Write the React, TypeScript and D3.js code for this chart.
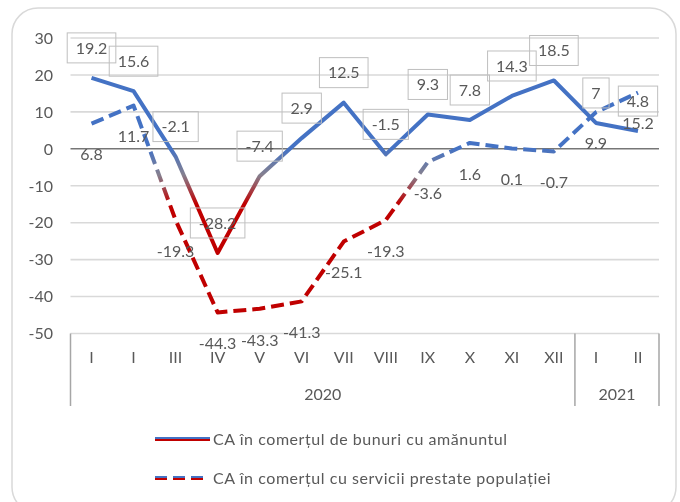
import React from "react";
import * as d3 from "d3";

const months = ["I", "I", "III", "IV", "V", "VI", "VII", "VIII", "IX", "X", "XI", "XII", "I", "II"];
const yearLabels = ["2020", "2021"];
const yearSpans = [12, 2];
const goods = [19.2, 15.6, -2.1, -28.2, -7.4, 2.9, 12.5, -1.5, 9.3, 7.8, 14.3, 18.5, 7, 4.8];
const services = [6.8, 11.7, -19.3, -44.3, -43.3, -41.3, -25.1, -19.3, -3.6, 1.6, 0.1, -0.7, 9.9, 15.2];
const yTicks = [30, 20, 10, 0, -10, -20, -30, -40, -50];
const seriesNames = [
  "CA în comerțul de bunuri cu amănuntul",
  "CA în comerțul cu servicii prestate populației",
];

const W = 680;
const H = 502;
const FONT = "Lato, 'Open Sans', sans-serif";
const TEXT = "#595959";
const BLUE = "#4472C4";
const RED = "#C00000";
const GRAY = "#85808F";

let ctx: CanvasRenderingContext2D | null = null;
function measure(t: string, size: number) {
  if (!ctx) ctx = document.createElement("canvas").getContext("2d");
  if (!ctx) return t.length * size * 0.55;
  ctx.font = `${size}px Lato`;
  return ctx.measureText(t).width;
}

export default function App() {
  const left = 70.5;
  const right = 659;
  const top = 38;
  const bottom = 333.5;
  const x = d3.scaleBand<number>().domain(months.map((_, i) => i)).range([left, right]);
  const bw = x.bandwidth();
  const cx = (i: number) => (x(i) as number) + bw / 2;
  const y = d3.scaleLinear().domain([-50, 30]).range([bottom, top]);

  const line = d3
    .line<number>()
    .x((_, i) => cx(i))
    .y((d) => y(d));

  const fs = 16;
  let acc = 0;
  const yearPos = yearSpans.map((s) => {
    const a = acc;
    acc += s;
    return [a, acc];
  });

  return (
    <div style={{ position: "fixed", left: 0, top: 0 }}>
      <svg width={W} height={H} style={{ display: "block", fontFamily: FONT }}>
        <defs>
          <linearGradient id="grad" gradientUnits="userSpaceOnUse" x1={0} x2={0} y1={y(0)} y2={y(-15)}>
            <stop offset="0" stopColor={BLUE} />
            <stop offset="0.47" stopColor={GRAY} />
            <stop offset="1" stopColor={RED} />
          </linearGradient>
        </defs>
        <rect x={12} y={8} width={664} height={505} rx={26} ry={26} fill="#fff" stroke="#D9D9D9" strokeWidth={1.5} />

        {/* gridlines */}
        {yTicks.map((t) => (
          <line
            key={t}
            x1={left}
            x2={right}
            y1={y(t)}
            y2={y(t)}
            stroke={t === 0 ? "#767676" : "#D9D9D9"}
            strokeWidth={1.6}
          />
        ))}
        {yTicks.map((t) => (
          <text key={"l" + t} x={53} y={y(t)} dy="0.36em" textAnchor="end" fontSize={fs} fill={TEXT}>
            {t}
          </text>
        ))}

        {/* category axis */}
        {[left, ...yearPos.map((p) => (x(p[1] - 1) as number) + bw)].map((xx, i) => (
          <line key={"v" + i} x1={xx} x2={xx} y1={bottom} y2={406} stroke="#A6A6A6" strokeWidth={1.5} />
        ))}
        {months.map((m, i) => (
          <text key={"m" + i} x={cx(i)} y={357} dy="0.36em" textAnchor="middle" fontSize={fs} fill={TEXT}>
            {m}
          </text>
        ))}
        {yearLabels.map((yl, i) => {
          const [a, b] = yearPos[i];
          const mid = ((x(a) as number) + (x(b - 1) as number) + bw) / 2;
          return (
            <text key={"y" + i} x={mid} y={394} dy="0.36em" textAnchor="middle" fontSize={fs} fill={TEXT}>
              {yl}
            </text>
          );
        })}

        {/* lines */}
        <path d={line(services) || ""} fill="none" stroke="url(#grad)" strokeWidth={4} strokeDasharray="13 6" strokeLinejoin="round" />
        <path d={line(goods) || ""} fill="none" stroke="url(#grad)" strokeWidth={4} strokeLinejoin="round" />

        {/* goods labels (boxed, above) */}
        {goods.map((v, i) => {
          const t = String(v);
          const tw = measure(t, fs);
          const bwid = tw + 17;
          const ly = y(v) - 30;
          return (
            <g key={"g" + i}>
              <rect x={cx(i) - bwid / 2} y={ly - 15} width={bwid} height={30} fill="none" stroke="#BFBFBF" strokeWidth={1} />
              <text x={cx(i)} y={ly} dy="0.36em" textAnchor="middle" fontSize={fs} fill={TEXT}>
                {t}
              </text>
            </g>
          );
        })}
        {/* services labels (below) */}
        {services.map((v, i) => (
          <text key={"s" + i} x={cx(i)} y={y(v) + 31} dy="0.36em" textAnchor="middle" fontSize={fs} fill={TEXT}>
            {String(v)}
          </text>
        ))}

        {/* legend */}
        <g>
          <line x1={155} x2={210} y1={438} y2={438} stroke={BLUE} strokeWidth={2} />
          <line x1={155} x2={210} y1={440} y2={440} stroke={RED} strokeWidth={2} />
          <text x={213} y={439} dy="0.36em" fontSize={16} letterSpacing={0.55} fill={TEXT}>
            {seriesNames[0]}
          </text>
          <line x1={155} x2={205} y1={477} y2={477} stroke={BLUE} strokeWidth={2} strokeDasharray="12 6" />
          <line x1={155} x2={205} y1={479} y2={479} stroke={RED} strokeWidth={2} strokeDasharray="12 6" />
          <text x={213} y={478} dy="0.36em" fontSize={16} letterSpacing={0.55} fill={TEXT}>
            {seriesNames[1]}
          </text>
        </g>
      </svg>
    </div>
  );
}
